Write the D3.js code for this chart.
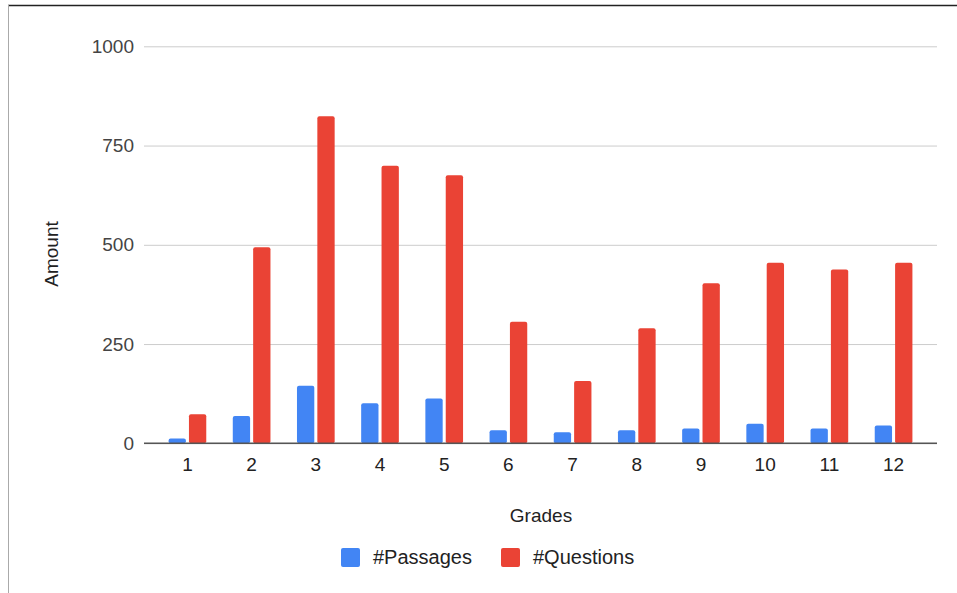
<!DOCTYPE html>
<html>
<head>
<meta charset="utf-8">
<script src="https://cdn.jsdelivr.net/npm/d3@7"></script>
<style>
  body { margin: 0; background: #fff; }
  svg { font-family: "Liberation Sans", Arial, sans-serif; }
</style>
</head>
<body>
<svg width="957" height="593"></svg>
<script>
// chart values
const grades = ['1','2','3','4','5','6','7','8','9','10','11','12'];
const passages = [12, 69, 145, 101, 113, 33, 28, 33, 37, 49, 37, 45];
const questions = [73, 494, 824, 699, 675, 306, 157, 290, 403, 455, 438, 455];
const seriesNames = ['#Passages', '#Questions'];
const seriesColors = ['#4285F4', '#EA4335'];
const yTicks = [0, 250, 500, 750, 1000];

const svg = d3.select('svg');

// frame lines round the chart
svg.append('line').attr('x1', 8).attr('x2', 957).attr('y1', 5.5).attr('y2', 5.5)
  .attr('stroke', '#222').attr('stroke-width', 1.5);
svg.append('line').attr('x1', 8.5).attr('x2', 8.5).attr('y1', 5).attr('y2', 593)
  .attr('stroke', '#aaa').attr('stroke-width', 1);

const left = 144, right = 937;

var xScale = d3.scaleBand()
  .domain(grades)
  .range([left, right])
  .paddingInner(0.413)
  .paddingOuter(0.383);

var xSub = d3.scaleBand()
  .domain(seriesNames)
  .range([0, xScale.bandwidth()])
  .paddingInner(0.15);

var yScale = d3.scaleLinear()
  .domain([0, 1000])
  .range([443.3, 46.3]);

// y axis with gridlines
const yAxis = svg.append('g')
  .attr('transform', 'translate(' + left + ',0)')
  .call(d3.axisLeft(yScale).tickValues(yTicks).tickFormat(d3.format('d'))
    .tickSize(-(right - left)).tickPadding(10));
yAxis.select('.domain').remove();
yAxis.selectAll('line').attr('stroke', '#ccc');
yAxis.selectAll('text').attr('font-size', 19).attr('fill', '#444').attr('font-family', null);

// bars
const rows = grades.map((g, i) => ({grade: g, values: [passages[i], questions[i]]}));

svg.append('g').selectAll('g')
  .data(rows)
  .enter()
  .append('g')
  .attr('transform', d => 'translate(' + xScale(d.grade) + ',0)')
  .selectAll('rect')
  .data(d => d.values.map((v, k) => ({name: seriesNames[k], value: v, color: seriesColors[k]})))
  .enter()
  .append('rect')
  .attr('x', d => xSub(d.name))
  .attr('width', xSub.bandwidth())
  .attr('y', d => yScale(d.value))
  .attr('height', d => yScale(0) - yScale(d.value))
  .attr('rx', 2)
  .attr('fill', d => d.color);

// x axis
const xAxis = svg.append('g')
  .attr('transform', 'translate(0,' + yScale(0) + ')')
  .call(d3.axisBottom(xScale).tickSize(0).tickPadding(14));
xAxis.select('.domain').attr('stroke', '#555').attr('stroke-width', 1.5)
  .attr('d', 'M' + left + ',0H' + right);
xAxis.selectAll('text').attr('font-size', 19).attr('fill', '#222').attr('font-family', null);

// axis titles
svg.append('text')
  .attr('x', 541).attr('y', 522)
  .attr('text-anchor', 'middle')
  .attr('font-size', 19).attr('fill', '#222')
  .text('Grades');

svg.append('text')
  .attr('transform', 'translate(58,254) rotate(-90)')
  .attr('text-anchor', 'middle')
  .attr('font-size', 19).attr('fill', '#222')
  .text('Amount');

// legend
const legendX = [341, 501];
const legend = svg.append('g').selectAll('g')
  .data(seriesNames)
  .enter()
  .append('g')
  .attr('transform', (d, i) => 'translate(' + legendX[i] + ',548)');
legend.append('rect')
  .attr('width', 19).attr('height', 19).attr('rx', 2)
  .attr('fill', (d, i) => seriesColors[i]);
legend.append('text')
  .attr('x', 32).attr('y', 16)
  .attr('font-size', 20).attr('fill', '#222')
  .text(d => d);
</script>
</body>
</html>
